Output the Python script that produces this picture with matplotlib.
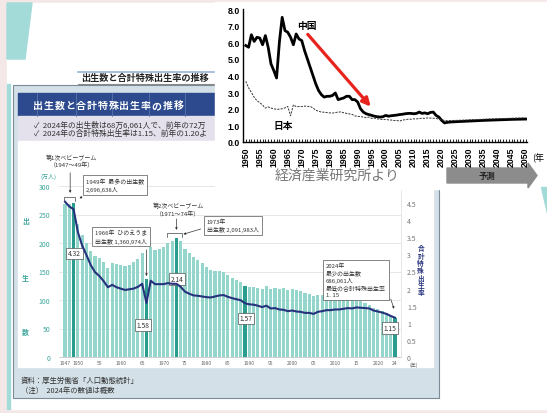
import matplotlib
matplotlib.use('Agg')
import matplotlib.pyplot as plt
from matplotlib.patches import Rectangle, Polygon

plt.rcParams['font.family'] = ['Noto Sans CJK JP', 'DejaVu Sans']

# ---- Japan: births (10k persons) and total fertility rate, 1947-2024
years = list(range(1947, 2025))
births = [267.9, 268.2, 269.7, 233.8, 213.8, 200.5, 186.8, 177.0, 173.1, 166.5,
          156.7, 165.3, 162.6, 160.6, 158.9, 161.9, 166.0, 171.7, 182.4, 136.1,
          193.5, 187.2, 188.9, 193.4, 200.1, 203.9, 209.2, 203.0, 190.1, 183.3,
          175.5, 170.9, 164.3, 157.7, 152.9, 151.5, 150.9, 149.0, 143.2, 138.3,
          134.7, 131.4, 124.7, 122.2, 122.3, 120.9, 118.8, 123.8, 118.7, 120.7,
          119.2, 120.3, 117.8, 119.1, 117.1, 115.4, 112.4, 111.1, 106.3, 109.3,
          109.0, 109.1, 107.0, 107.1, 105.1, 103.7, 103.0, 100.4, 100.6, 97.7,
          94.6, 91.8, 86.5, 84.1, 81.2, 77.1, 72.7, 68.6]
tfr = [4.54, 4.40, 4.32, 3.65, 3.26, 2.98, 2.69, 2.48, 2.37, 2.22,
       2.04, 2.11, 2.04, 2.00, 1.96, 1.98, 2.00, 2.05, 2.14, 1.58,
       2.23, 2.13, 2.13, 2.13, 2.16, 2.14, 2.14, 2.05, 1.91, 1.85,
       1.80, 1.79, 1.77, 1.75, 1.74, 1.77, 1.80, 1.81, 1.76, 1.72,
       1.69, 1.66, 1.57, 1.54, 1.53, 1.50, 1.46, 1.50, 1.42, 1.43,
       1.39, 1.38, 1.34, 1.36, 1.33, 1.32, 1.29, 1.29, 1.26, 1.32,
       1.34, 1.37, 1.37, 1.39, 1.39, 1.41, 1.43, 1.42, 1.45, 1.44,
       1.43, 1.42, 1.36, 1.33, 1.30, 1.26, 1.20, 1.15]
highlight_years = [1949, 1966, 1973, 1989, 2024]
xtick_years = [1947, 1950, 1955, 1960, 1965, 1970, 1975, 1980, 1985, 1990,
               1995, 2000, 2005, 2010, 2015, 2020, 2024]
xtick_labels = ['1947', '1950', '55', '1960', '65', '1970', '75', '1980', '85',
                '1990', '95', '2000', '05', '2010', '15', '2020', '24']

# ---- China vs Japan TFR (1950-2050, projection after ~2021)
cn_years = list(range(1950, 2024)) + [2025, 2030, 2035, 2040, 2045, 2050]
cn_tfr = [5.80, 5.70, 6.45, 6.05, 6.30, 6.25, 5.85, 6.40, 5.70, 4.70,
          4.30, 3.85, 6.00, 7.50, 6.70, 6.60, 6.30, 5.85, 6.50, 6.20,
          6.10, 5.50, 5.00, 4.50, 4.00, 3.50, 3.10, 2.85, 2.70, 2.75,
          2.75, 2.80, 2.95, 2.55, 2.60, 2.65, 2.75, 2.75, 2.55, 2.55,
          2.40, 2.00, 1.80, 1.70, 1.65, 1.60, 1.55, 1.52, 1.50, 1.52,
          1.60, 1.55, 1.58, 1.60, 1.62, 1.65, 1.67, 1.70, 1.72, 1.72,
          1.70, 1.72, 1.80, 1.72, 1.75, 1.70, 1.78, 1.80, 1.60, 1.50,
          1.30, 1.15, 1.18, 1.20, 1.22, 1.26, 1.30, 1.33, 1.36, 1.38]
jp_proj_years = [2022, 2025, 2030, 2035, 2040, 2045, 2050]
jp_proj_tfr = [1.28, 1.30, 1.33, 1.37, 1.40, 1.43, 1.45]

W, H = 547, 414

def rect(x0, y0, x1, y1):
    return [x0 / W, 1 - y1 / H, (x1 - x0) / W, (y1 - y0) / H]

def pixel_layer(fig):
    a = fig.add_axes([0, 0, 1, 1])
    a.set_xlim(0, W)
    a.set_ylim(H, 0)
    a.axis('off')
    a.patch.set_alpha(0)
    return a

fig = plt.figure(figsize=(W / 100, H / 100), dpi=100)
fig.patch.set_facecolor('#f4e7e7')

# ---------------- slide background
bg = pixel_layer(fig)
bg.add_patch(Rectangle((7, 4), 540, 406, color='white'))
bg.add_patch(Polygon([(7, 4), (32, 4), (25, 60), (7, 60)], color='#a3dbd8'))
bg.add_patch(Rectangle((7, 85), 3, 325, color='#a3dbd8'))

# japanese figure panel (right part is hidden under the overlay)
cut = Rectangle((0, 0), 215, H, transform=bg.transData)
bg.add_patch(Rectangle((13, 86), 426, 313, facecolor='#d3e0e8', edgecolor='#7a8a96', lw=0.8))
bg.add_patch(Rectangle((18, 94), 415, 23, color='#2c4a8d'))
for xl in [37, 76, 112, 149, 185]:
    bg.plot([xl, xl], [94, 117], color='#5a74aa', lw=0.6)
for i, ch in enumerate('出生数と合計特殊出生率の推移'):
    bg.text(38 + i * 10.8, 106, ch, color='white', fontsize=7.2, fontweight='bold',
            va='center', ha='center')
bg.add_patch(Rectangle((18, 117), 415, 25, color='#e4e1ec'))
t1 = bg.text(34, 125, '✓  2024年の出生数は68万6,061人で、前年の72万',
             fontsize=5.6, color='#333333', va='center')
t2 = bg.text(34, 134, '✓  2024年の合計特殊出生率は1.15、前年の1.20よ',
             fontsize=5.6, color='#333333', va='center')
t1.set_clip_path(cut)
t2.set_clip_path(cut)
bg.add_patch(Rectangle((18, 142), 415, 226, color='white'))
bg.text(21, 381, '資料：厚生労働省「人口動態統計」', fontsize=5.3, color='#333333', va='center')
bg.text(21, 391, '（注）  2024年の数値は概数', fontsize=5.3, color='#333333', va='center')

# small title box
bg.add_patch(Rectangle((78, 72), 140, 13, facecolor='white', edgecolor='none'))
bg.plot([78, 218], [72.5, 72.5], color='#9ab3d6', lw=1.2)
bg.plot([78, 218], [85, 85], color='#8a8a8a', lw=0.8)
bg.text(81, 78.5, '出生数と合計特殊出生率の推移', fontsize=6.6, fontweight='bold',
        color='#222222', va='center')

# ---------------- births bar chart
ax = fig.add_axes(rect(58.6, 187, 401.4, 358))
ax.patch.set_alpha(0)
colors = ['#2b9d8f' if y in highlight_years else '#95d6cc' for y in years]
ax.bar(years, births, width=0.72, color=colors, zorder=2)
ax.set_xlim(1945.5, 2025.5)
ax.set_ylim(0, 300)
ax.set_yticks(range(0, 301, 50))
ax.tick_params(axis='y', length=0, labelsize=5, labelcolor='#3aa59b', pad=6)
ax.set_xticks(xtick_years)
ax.set_xticklabels(xtick_labels)
ax.tick_params(axis='x', length=0, labelsize=3.6, labelcolor='#666666', pad=2)
ax.grid(axis='y', color='#dddddd', lw=0.5, zorder=0)
for s in ax.spines.values():
    s.set_visible(False)
ax.spines['bottom'].set_visible(True)
ax.spines['bottom'].set_color('#bbbbbb')
ax.spines['bottom'].set_linewidth(0.5)

ax2 = ax.twinx()
ax2.plot(years, tfr, color='#26327c', lw=1.5, zorder=3)
ax2.set_ylim(0, 5)
ax2.set_yticks([0, 0.5, 1, 1.5, 2, 2.5, 3, 3.5, 4, 4.5])
ax2.set_yticklabels(['0', '0.5', '1', '1.5', '2', '2.5', '3', '3.5', '4', '4.5'])
ax2.tick_params(axis='y', length=0, labelsize=5, labelcolor='#777777', pad=4)
for s in ax2.spines.values():
    s.set_visible(False)
ax2.spines['right'].set_visible(True)
ax2.spines['right'].set_color('#dddddd')
ax2.spines['right'].set_linewidth(0.5)

bbox = dict(boxstyle='square,pad=0.25', fc='white', ec='#555555', lw=0.5)
label_pos = {1949: (1949.2, 182), 1966: (1965.2, 56), 1973: (1973.1, 137),
             1989: (1989.2, 68), 2024: (2022.8, 51)}
for y, (lx, ly) in label_pos.items():
    ax.text(lx, ly, '%.2f' % tfr[years.index(y)], fontsize=4.8, ha='center',
            va='center', color='#333333', bbox=bbox, zorder=5)

note = dict(fontsize=4.3, color='#333333', va='top', ha='left', zorder=5)
boxed = dict(note, bbox=dict(boxstyle='square,pad=0.45', fc='white', ec='#555555', lw=0.5))
arrow = dict(arrowstyle='-|>', color='#333333', lw=0.5, mutation_scale=3)

ax.text(1948.6, 356, '第1次ベビーブーム\n（1947〜49年）', fontsize=4.3,
        color='#333333', ha='center', va='top', linespacing=1.3)
ax.annotate('', xy=(1948.2, 283), xytext=(1948.2, 328), arrowprops=arrow)
ax.plot([1946.7, 1946.7, 1949.3, 1949.3], [274, 281, 281, 274], color='#444444',
        lw=0.5, clip_on=False)
ax.text(1951.9, 314, '1949年  最多の出生数\n2,696,638人', linespacing=1.4, **boxed)
ax.annotate('', xy=(1949.8, 276), xytext=(1951.5, 283), arrowprops=arrow)

ax.text(1954.0, 224, '1966年  ひのえうま\n出生数 1,360,974人', linespacing=1.4, **boxed)
ax.annotate('', xy=(1966, 137), xytext=(1966, 193), arrowprops=arrow)

ax.text(1973.4, 271, '第2次ベビーブーム\n（1971〜74年）', fontsize=4.3,
        color='#333333', ha='center', va='top', linespacing=1.3)
ax.annotate('', xy=(1973.0, 218), xytext=(1973.0, 247), arrowprops=arrow)
ax.plot([1970.7, 1970.7, 1974.3, 1974.3], [211, 217, 217, 211], color='#444444',
        lw=0.5, clip_on=False)
ax.text(1980.1, 243, '1973年\n出生数 2,091,983人', linespacing=1.4, **boxed)
ax.annotate('', xy=(1974.0, 214), xytext=(1979.3, 226), arrowprops=arrow)

ax.text(2007.9, 166, '2024年\n最少の出生数\n686,061人\n最低の合計特殊出生率\n1. 15',
        linespacing=1.35, **boxed)
ax.annotate('', xy=(2024, 80), xytext=(2022.8, 106), arrowprops=arrow)

ax.text(1943.2, 318, '(万人)', fontsize=4.3, color='#3aa59b', ha='center', va='center')
for ch, yv in zip('出生数', [239, 140, 45]):
    ax.text(1937.8, yv, ch, fontsize=5, color='#3aa59b', fontweight='bold',
            ha='center', va='center')
ax.text(2028.3, -12, '(年)', fontsize=3.6, color='#666666', ha='center', va='center')
ax2.text(2030.0, 2.55, '\n'.join('合計特殊出生率'), fontsize=4.8, color='#26327c',
         fontweight='bold', ha='center', va='center', linespacing=1.05)

# ---------------- overlay: China vs Japan chart
top = pixel_layer(fig)
top.add_patch(Rectangle((215, 3), 332, 187, color='white'))
top.add_patch(Polygon([(541, 188), (547, 188), (547, 214)], color='#a3dbd8'))
top.text(337, 176, '経済産業研究所より', fontsize=10, color='#777777', ha='center', va='center')
top.add_patch(Polygon([(447, 169), (528, 169), (528, 164), (537, 176.5), (528, 189),
                       (528, 184), (447, 184)], color='#8c8c8c'))
top.text(487, 176.5, '予測', fontsize=6, fontweight='bold', color='#222222',
         ha='center', va='center')

cx = fig.add_axes(rect(243, 10, 527, 143))
cx.patch.set_alpha(0)
cx.plot(cn_years, cn_tfr, color='black', lw=2.0, solid_joinstyle='round')
cx.plot(years[3:75] + jp_proj_years, tfr[3:75] + jp_proj_tfr, color='#333333',
        lw=0.7, ls=(0, (2.2, 1.2)))
cx.set_xlim(1949, 2050.5)
cx.set_ylim(0, 8)
cx.set_yticks([0, 1, 2, 3, 4, 5, 6, 7, 8])
cx.set_yticklabels(['%.1f' % v for v in range(9)])
cx.set_xticks(range(1950, 2051, 5))
cx.set_xticks(range(1950, 2051), minor=True)
cx.tick_params(axis='x', which='both', direction='in', length=2.2, width=0.6,
               labelsize=6.3, labelrotation=90, pad=3)
cx.tick_params(axis='y', length=0, labelsize=6.3, pad=2)
for lab in cx.get_xticklabels() + cx.get_yticklabels():
    lab.set_fontfamily(['Liberation Sans', 'DejaVu Sans'])
    lab.set_fontweight('bold')
cx.spines['top'].set_visible(False)
cx.spines['right'].set_visible(False)
cx.spines['left'].set_linewidth(1.0)
cx.spines['bottom'].set_linewidth(1.0)
cx.text(1972.0, 7.05, '中国', fontsize=7, fontweight='bold', ha='center', va='center')
cx.text(1963.5, 1.0, '日本', fontsize=7, fontweight='bold', ha='center', va='center')
cx.annotate('', xy=(1995.3, 2.0), xytext=(1971.5, 6.6),
            arrowprops=dict(arrowstyle='-|>', color='#e8231d', lw=2.3, mutation_scale=12))
cx.text(2054.5, -0.9, '(年', fontsize=6.5, ha='center', va='center')

fig.savefig('out.png', dpi=100, facecolor=fig.get_facecolor())
